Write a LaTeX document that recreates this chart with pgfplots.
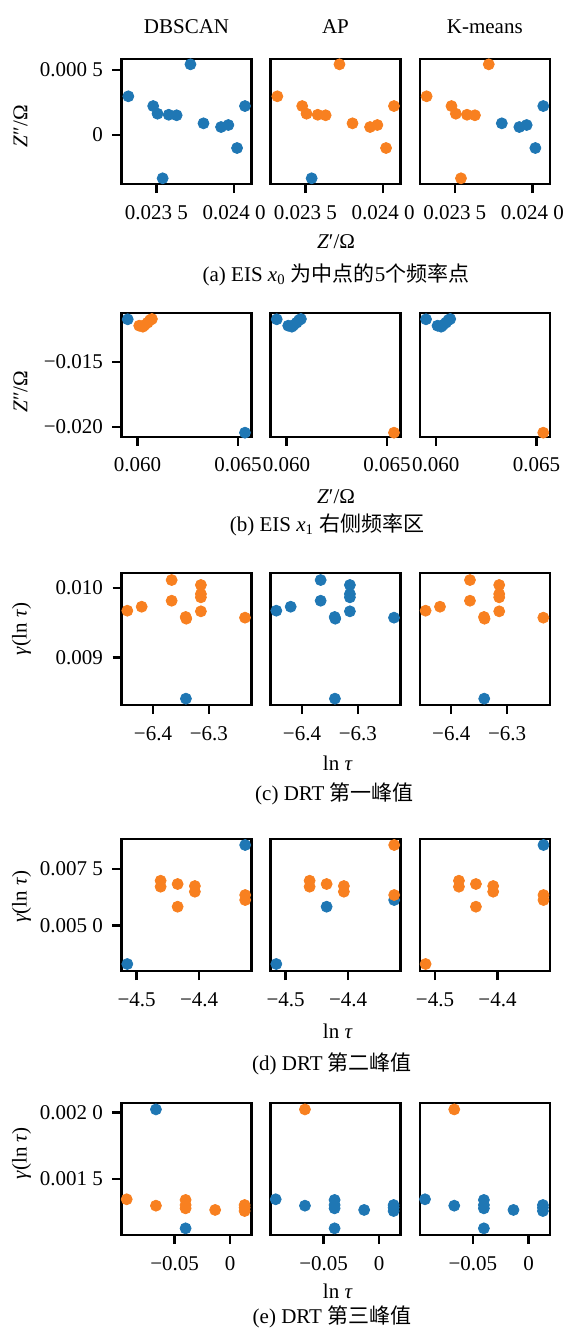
\documentclass[border=0pt]{standalone}
\usepackage{fontspec}
\setmainfont{Liberation Serif}
\newfontfamily\cjk{Noto Sans CJK SC}
\usepackage{pgfplots}
\pgfplotsset{compat=1.18}
\usepackage{pgfplotstable}
\definecolor{tabblue}{HTML}{1F77B4}
\definecolor{taborange}{HTML}{F88020}

% x y, cluster labels: d = DBSCAN, a = AP, k = K-means (b = blue, o = orange)
\pgfplotstableread{
x y d a k
0.023319 0.000298 b o o
0.023479 0.000223 b o o
0.023507 0.000164 b o o
0.023579 0.000156 b o o
0.023630 0.000152 b o o
0.023719 0.000544 b o o
0.023803 0.000090 b o b
0.023916 0.0000615 b o b
0.023963 0.000077 b o b
0.024019 -0.000100 b o b
0.024070 0.000223 b o b
0.023540 -0.000333 b b o
}\rowa

\pgfplotstableread{
x y d a k
0.05952 -0.011753 b b b
0.06009 -0.012243 o b b
0.06027 -0.01232 o b b
0.06036 -0.01219 o b b
0.06051 -0.01201 o b b
0.06063 -0.01181 o b b
0.06072 -0.01173 o b b
0.06534 -0.020436 b o o
}\rowb

\pgfplotstableread{
x y d a k
-6.4459 0.009670 o b o
-6.4202 0.009727 o b o
-6.3666 0.010110 o b o
-6.3666 0.009813 o b o
-6.3415 0.009580 o b o
-6.3405 0.009555 o b o
-6.3143 0.010039 o b o
-6.3143 0.009910 o b o
-6.3143 0.009862 o b o
-6.3143 0.009661 o b o
-6.2354 0.009570 o b o
-6.3411 0.008407 b b b
}\rowc

\pgfplotstableread{
x y d a k
-4.5150 0.003282 b b o
-4.4617 0.006980 o o o
-4.4617 0.006714 o o o
-4.4345 0.006834 o o o
-4.4069 0.006745 o o o
-4.4069 0.006492 o o o
-4.4345 0.005826 o b o
-4.3264 0.006123 o b o
-4.3264 0.006345 o o o
-4.3264 0.008566 b o b
}\rowd

\pgfplotstableread{
x y d a k
-0.09309 0.001348 o b b
-0.06679 0.001300 o b b
-0.04014 0.001343 o b b
-0.04014 0.001305 o b b
-0.04014 0.001280 o b b
-0.01355 0.001268 o b b
0.01293 0.001305 o b b
0.01293 0.001285 o b b
0.01293 0.001260 o b b
-0.04014 0.001130 b b b
-0.06679 0.002022 b o o
}\rowe

\pgfplotsset{
  panel/.style={scale only axis, width=65pt, anchor=north west,
    axis line style={line width=1.3pt, black},
    tick style={line width=1.2pt, black},
    major tick length=4.5pt, tick align=outside,
    xtick pos=bottom, ytick pos=left, axis on top, scaled ticks=false,
    every tick label/.append style={font=\fontsize{10.5}{12}\selectfont},
    xticklabel style={anchor=base, yshift=-13pt},
    yticklabel style={anchor=east, xshift=-1.25pt}},
  noy/.style={ytick=\empty},
  cls/.style={scatter, only marks, point meta=explicit symbolic, mark size=2.75pt,
    scatter/classes={b={mark=*, draw=tabblue, fill=tabblue}, o={mark=*, draw=taborange, fill=taborange}}},
  rA/.style={height=62.5pt, xmin=0.023275, xmax=0.024112, ymin=-0.000377, ymax=0.000585,
    xtick={0.0235,0.024}, xticklabels={0.023~5, 0.024~0}, ytick={0,0.0005}, yticklabels={0, 0.000~5}},
  rB/.style={height=62pt, xmin=0.05921, xmax=0.065664, ymin=-0.020766, ymax=-0.011271,
    xtick={0.06,0.065}, xticklabels={0.060, 0.065}, ytick={-0.02,-0.015}, yticklabels={−0.020, −0.015}},
  rC/.style={height=66pt, xmin=-6.4563, xmax=-6.2238, ymin=0.008316, ymax=0.010211,
    xtick={-6.4,-6.3}, xticklabels={−6.4, −6.3}, ytick={0.009,0.010}, yticklabels={0.009, 0.010}},
  rD/.style={height=66pt, xmin=-4.5243, xmax=-4.3163, ymin=0.002971, ymax=0.008832,
    xtick={-4.5,-4.4}, xticklabels={−4.5, −4.4}, ytick={0.005,0.0075}, yticklabels={0.005~0, 0.007~5}},
  rE/.style={height=66pt, xmin=-0.09776, xmax=0.01912, ymin=0.00108, ymax=0.00207,
    xtick={-0.05,0}, xticklabels={−0.05, 0}, ytick={0.0015,0.002}, yticklabels={0.001~5, 0.002~0}},
}

\begin{document}
\begin{tikzpicture}[font=\fontsize{10.5}{12.6}\selectfont]
\path[use as bounding box] (0,0) rectangle (283.5pt,-664pt);

% column titles
\node[anchor=base] at (93.25pt,-16.65pt) {DBSCAN};
\node[anchor=base] at (167.75pt,-16.65pt) {AP};
\node[anchor=base] at (242.4pt,-16.65pt) {K-means};

% ---------- row a ----------
\begin{axis}[panel, rA, at={(60.75pt,-29.5pt)}]
\addplot[cls] table[x=x, y=y, meta=d] {\rowa};
\end{axis}
\begin{axis}[panel, rA, noy, at={(135.25pt,-29.5pt)}]
\addplot[cls] table[x=x, y=y, meta=a] {\rowa};
\end{axis}
\begin{axis}[panel, rA, noy, at={(209.9pt,-29.5pt)}]
\addplot[cls] table[x=x, y=y, meta=k] {\rowa};
\end{axis}
\node[rotate=90, anchor=center] at (10.3pt,-63.15pt) {\textit{Z}″/Ω};
\node[anchor=base] at (168pt,-124.15pt) {\textit{Z}′/Ω};
\node[anchor=base] at (168pt,-140.5pt) {(a) EIS \textit{x}\textsubscript{0} {\cjk 为中点的}5{\cjk 个频率点}};

% ---------- row b ----------
\begin{axis}[panel, rB, at={(60.75pt,-156.5pt)}]
\addplot[cls] table[x=x, y=y, meta=d] {\rowb};
\end{axis}
\begin{axis}[panel, rB, noy, at={(135.25pt,-156.5pt)}]
\addplot[cls] table[x=x, y=y, meta=a] {\rowb};
\end{axis}
\begin{axis}[panel, rB, noy, at={(209.9pt,-156.5pt)}]
\addplot[cls] table[x=x, y=y, meta=k] {\rowb};
\end{axis}
\node[rotate=90, anchor=center] at (10.3pt,-195.85pt) {\textit{Z}″/Ω};
\node[anchor=base] at (168pt,-251.65pt) {\textit{Z}′/Ω};
\node[anchor=base] at (163.5pt,-265.85pt) {(b) EIS \textit{x}\textsubscript{1} {\cjk 右侧频率区}};

% ---------- row c ----------
\begin{axis}[panel, rC, at={(60.75pt,-286.5pt)}]
\addplot[cls] table[x=x, y=y, meta=d] {\rowc};
\end{axis}
\begin{axis}[panel, rC, noy, at={(135.25pt,-286.5pt)}]
\addplot[cls] table[x=x, y=y, meta=a] {\rowc};
\end{axis}
\begin{axis}[panel, rC, noy, at={(209.9pt,-286.5pt)}]
\addplot[cls] table[x=x, y=y, meta=k] {\rowc};
\end{axis}
\node[rotate=90, anchor=center] at (10.85pt,-314.5pt) {\textit{γ}(ln \textit{τ})};
\node[anchor=base] at (168.9pt,-385pt) {ln \textit{τ}};
\node[anchor=base] at (167.25pt,-400.35pt) {(c) DRT {\cjk 第一峰值}};

% ---------- row d ----------
\begin{axis}[panel, rD, at={(60.75pt,-419.5pt)}]
\addplot[cls] table[x=x, y=y, meta=d] {\rowd};
\end{axis}
\begin{axis}[panel, rD, noy, at={(135.25pt,-419.5pt)}]
\addplot[cls] table[x=x, y=y, meta=a] {\rowd};
\end{axis}
\begin{axis}[panel, rD, noy, at={(209.9pt,-419.5pt)}]
\addplot[cls] table[x=x, y=y, meta=k] {\rowd};
\end{axis}
\node[rotate=90, anchor=center] at (10.85pt,-448.35pt) {\textit{γ}(ln \textit{τ})};
\node[anchor=base] at (168.9pt,-519.15pt) {ln \textit{τ}};
\node[anchor=base] at (166pt,-535pt) {(d) DRT {\cjk 第二峰值}};

% ---------- row e ----------
\begin{axis}[panel, rE, at={(60.75pt,-551.5pt)}]
\addplot[cls] table[x=x, y=y, meta=d] {\rowe};
\end{axis}
\begin{axis}[panel, rE, noy, at={(135.25pt,-551.5pt)}]
\addplot[cls] table[x=x, y=y, meta=a] {\rowe};
\end{axis}
\begin{axis}[panel, rE, noy, at={(209.9pt,-551.5pt)}]
\addplot[cls] table[x=x, y=y, meta=k] {\rowe};
\end{axis}
\node[rotate=90, anchor=center] at (10.85pt,-576.65pt) {\textit{γ}(ln \textit{τ})};
\node[anchor=base] at (168.9pt,-649.15pt) {ln \textit{τ}};
\node[anchor=base] at (166pt,-661.7pt) {(e) DRT {\cjk 第三峰值}};
\end{tikzpicture}
\end{document}
